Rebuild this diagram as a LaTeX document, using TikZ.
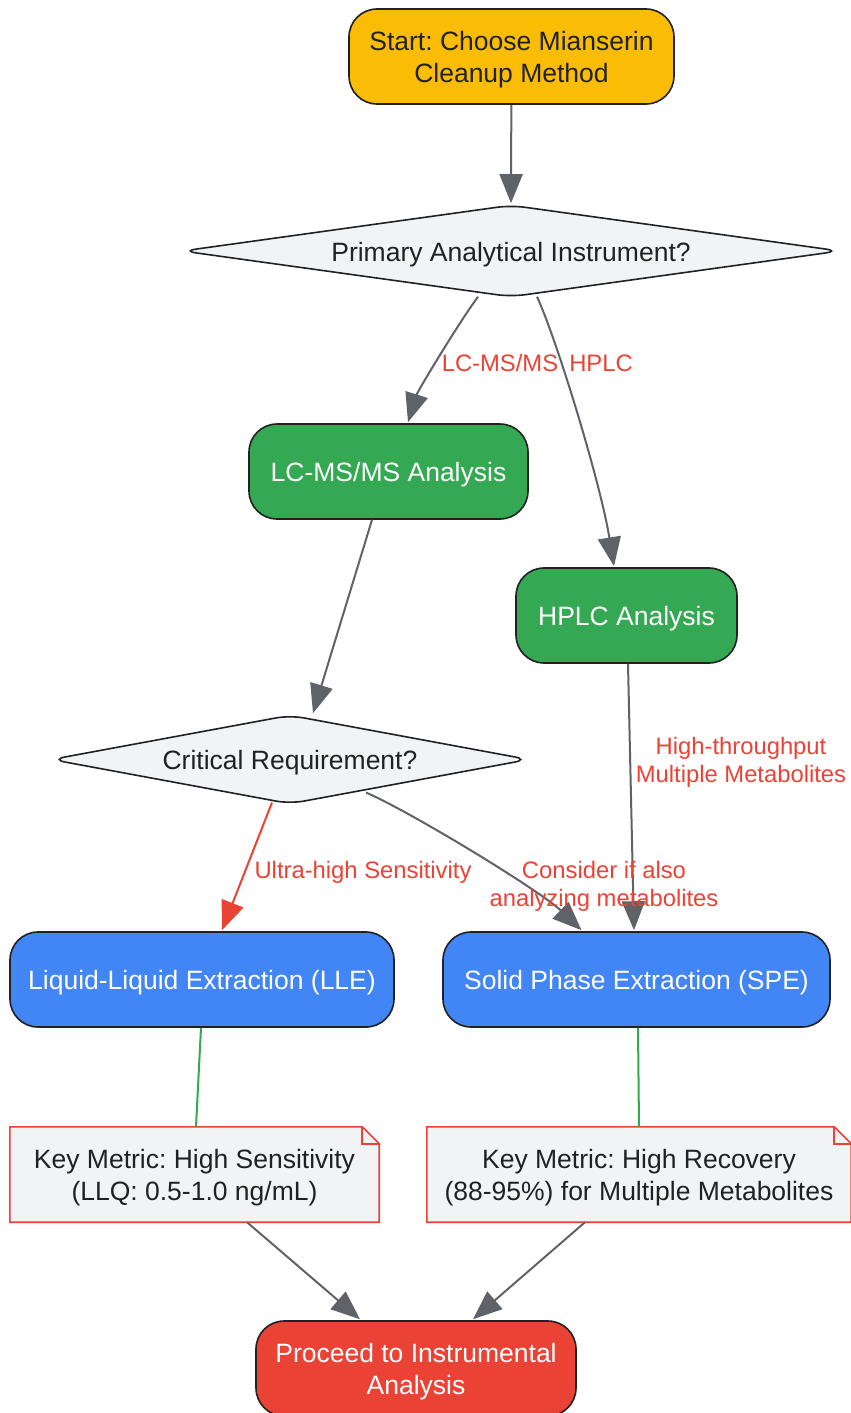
\documentclass[tikz,border=0pt]{standalone}
\usepackage{fontspec}
\setmainfont{Liberation Sans}
\usetikzlibrary{shapes.geometric,arrows.meta,calc,backgrounds}
\definecolor{cyellow}{HTML}{FBBC05}
\definecolor{cgreen}{HTML}{34A853}
\definecolor{cblue}{HTML}{4285F4}
\definecolor{cred}{HTML}{EA4335}
\definecolor{cgray}{HTML}{F1F3F4}
\definecolor{cedge}{HTML}{5F6368}
\definecolor{ctext}{HTML}{202124}
\newcommand{\mainfs}{\fontsize{26.5}{32}\selectfont\frenchspacing}
\newcommand{\labfs}{\fontsize{23.8}{28}\selectfont\frenchspacing}
\newcommand{\dn}{\rule{0pt}{25.5pt}}
\tikzset{
  base/.style={rounded corners=28pt, draw=ctext, line width=1.6pt, minimum height=95pt,
    align=center, font=\mainfs, inner sep=0pt},
  startbox/.style={base, fill=cyellow, text=ctext},
  greenbox/.style={base, fill=cgreen, text=white},
  bluebox/.style={base, fill=cblue, text=white},
  redbox/.style={base, fill=cred, text=white},
  decision/.style={diamond, aspect=7, rounded corners=14pt, draw=ctext, line width=1.6pt,
    fill=cgray, text=ctext, font=\mainfs, inner sep=0pt, align=center},
  notebox/.style={minimum height=95pt, inner sep=0pt, align=center, font=\mainfs, text=ctext},
  noteline/.style={draw=cred, line width=1.6pt, line join=miter},
  edge/.style={draw=cedge, line width=2pt, -{Triangle[length=29pt,width=23pt]}},
  redge/.style={draw=cred, line width=2pt, -{Triangle[length=29pt,width=23pt]}},
  gline/.style={draw=cgreen, line width=2pt},
  elabel/.style={font=\labfs, text=cred, align=center, inner sep=0pt},
}
\begin{document}
\begin{tikzpicture}[x=1pt,y=-1pt]
\useasboundingbox (0,0) rectangle (851,1413);

\node[startbox, minimum width=325pt] (start) at (511.5,56.5) {\dn Start: Choose Mianserin\\Cleanup Method};
\node[decision, minimum width=658pt, minimum height=92pt] (d1) at (511,251) {\dn Primary Analytical Instrument?};
\node[greenbox, minimum width=279pt] (lcms) at (388.5,471.5) {\dn LC-MS/MS Analysis};
\node[greenbox, minimum width=221pt] (hplc) at (626.5,615.5) {\dn HPLC Analysis};
\node[decision, minimum width=478pt, minimum height=89pt] (crit) at (290,759.5) {\dn Critical Requirement?};
\node[bluebox, minimum width=384pt] (lle) at (202,979.5) {\dn Liquid-Liquid Extraction (LLE)};
\node[bluebox, minimum width=387pt] (spe) at (636.5,979.5) {\dn Solid Phase Extraction (SPE)};
\node[notebox, minimum width=369pt] (n1) at (194.5,1174.5) {\dn Key Metric: High Sensitivity\\(LLQ: 0.5-1.0 ng/mL)};
\node[notebox, minimum width=424pt] (n2) at (639,1174.5) {\dn Key Metric: High Recovery\\(88-95\%) for Multiple Metabolites};
\node[redbox, minimum width=320pt] (proc) at (416,1368.5) {\dn Proceed to Instrumental\\Analysis};

\begin{scope}[on background layer]
\foreach \n in {n1,n2}{
  \filldraw[noteline, fill=cgray] (\n.north west) -- ($(\n.north east)+(-17,0)$) -- ($(\n.north east)+(0,17)$) -- (\n.south east) -- (\n.south west) -- cycle;
  \draw[noteline] ($(\n.north east)+(-17,0)$) -- ($(\n.north east)+(-17,17)$) -- ($(\n.north east)+(0,17)$);
}
\end{scope}

% edges
\draw[edge] (start) -- ($(d1.north)+(0,-1)$);
\draw[edge] ($(d1.south)+(-33,-1)$) .. controls +(-16,21) and +(10,-32) .. ($(lcms.north)+(19.5,-1)$);
\draw[edge] ($(d1.south)+(26,-1)$) .. controls +(18,38) and +(-14,-86) .. ($(hplc.north)+(-12.5,-1)$);
\draw[edge] ($(lcms.south)+(-16.5,0)$) -- ($(crit.north)+(23,-1)$);
\draw[edge] ($(hplc.south)+(1.5,0)$) -- ($(spe.north)+(-2.5,-1)$);
\draw[redge] ($(crit.center)+(-18,43)$) -- ($(lle.north)+(20,-1)$);
\draw[edge] ($(crit.center)+(76,33)$) .. controls +(44,19) and +(-42,-40) .. ($(spe.north)+(-55,-1)$);
\draw[gline] ($(lle.south)+(-1,0)$) -- ($(n1.north)+(1.5,0)$);
\draw[gline] ($(spe.south)+(1.5,0)$) -- ($(n2.north)+(0,0)$);
\draw[edge] ($(n1.south)+(52.5,0)$) -- ($(proc.north)+(-56,-1)$);
\draw[edge] ($(n2.south)+(-54,0)$) -- ($(proc.north)+(57,-1)$);

% labels
\node[elabel] (l1) at (500,363) {LC-MS/MS};
\node[elabel] (l2) at (601,363) {HPLC};
\node[elabel] (l3) at (741,762) {High-throughput\\Multiple Metabolites};
\node[elabel] (l4) at (363,872) {Ultra-high Sensitivity};
\node[elabel] (l5) at (604,886) {Consider if also\\analyzing metabolites};
\end{tikzpicture}
\end{document}
